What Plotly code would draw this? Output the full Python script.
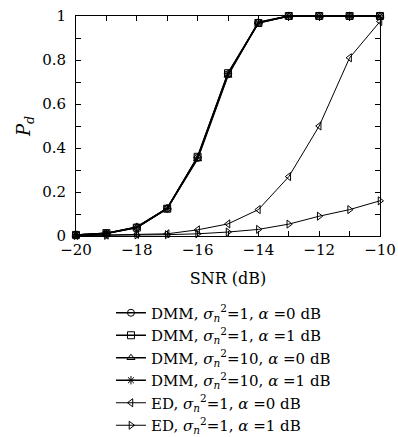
import plotly.graph_objects as go

snr = [-20, -19, -18, -17, -16, -15, -14, -13, -12, -11, -10]
dmm_s1_a0 = [0.005, 0.012, 0.040, 0.125, 0.355, 0.735, 0.970, 1.0, 1.0, 1.0, 1.0]
dmm_s1_a1 = [0.005, 0.013, 0.038, 0.124, 0.360, 0.740, 0.968, 1.0, 1.0, 1.0, 1.0]
dmm_s10_a0 = [0.004, 0.011, 0.039, 0.126, 0.350, 0.730, 0.972, 1.0, 1.0, 1.0, 1.0]
dmm_s10_a1 = [0.005, 0.012, 0.041, 0.125, 0.358, 0.738, 0.969, 1.0, 1.0, 1.0, 1.0]
ed_a0 = [0.002, 0.004, 0.007, 0.010, 0.028, 0.055, 0.120, 0.270, 0.500, 0.810, 0.975]
ed_a1 = [0.002, 0.003, 0.005, 0.006, 0.010, 0.018, 0.030, 0.054, 0.090, 0.120, 0.160]

names = [
    "DMM, <i>σ</i><sub><i>n</i></sub><sup>2</sup>=1, <i>α</i> =0 dB",
    "DMM, <i>σ</i><sub><i>n</i></sub><sup>2</sup>=1, <i>α</i> =1 dB",
    "DMM, <i>σ</i><sub><i>n</i></sub><sup>2</sup>=10, <i>α</i> =0 dB",
    "DMM, <i>σ</i><sub><i>n</i></sub><sup>2</sup>=10, <i>α</i> =1 dB",
    "ED, <i>σ</i><sub><i>n</i></sub><sup>2</sup>=1, <i>α</i> =0 dB",
    "ED, <i>σ</i><sub><i>n</i></sub><sup>2</sup>=1, <i>α</i> =1 dB",
]
series = [dmm_s1_a0, dmm_s1_a1, dmm_s10_a0, dmm_s10_a1, ed_a0, ed_a1]
symbols = ["circle-open", "square-open", "triangle-up-open", "asterisk-open",
           "triangle-left-open", "triangle-right-open"]
widths = [1.5, 1.5, 1.5, 1.5, 1.0, 1.0]

fig = go.Figure()
for nm, ys, sym, w in zip(names, series, symbols, widths):
    fig.add_trace(go.Scatter(
        x=snr, y=ys, name=nm, mode="lines+markers",
        line=dict(color="black", width=w),
        marker=dict(symbol=sym, size=7, color="black", line=dict(color="black", width=1)),
        cliponaxis=False,
    ))

font_family = "DejaVu Serif, Liberation Serif, serif"
fig.update_layout(
    width=398, height=437,
    margin=dict(l=76, r=18, t=16, b=201, autoexpand=False),
    paper_bgcolor="white", plot_bgcolor="white",
    font=dict(family=font_family, size=15, color="black"),
    showlegend=True,
    legend=dict(x=0.115, y=-0.275, xanchor="left", yanchor="top",
                font=dict(family=font_family, size=15, color="black"),
                bgcolor="rgba(0,0,0,0)", tracegroupgap=0, itemwidth=30),
    xaxis=dict(range=[-20, -10], tickvals=[-20, -18, -16, -14, -12, -10],
               ticktext=["−20", "−18", "−16", "−14", "−12", "−10"],
               ticks="inside", ticklen=5, tickcolor="black",
               minor=dict(dtick=1, ticks="inside", ticklen=5, tickcolor="black"),
               showline=True, linecolor="black", linewidth=1, mirror="ticks",
               showgrid=False, zeroline=False,
               title=dict(text="SNR (dB)", standoff=14, font=dict(size=16))),
    yaxis=dict(range=[0, 1], tickvals=[0, 0.2, 0.4, 0.6, 0.8, 1],
               ticktext=["0", "0.2", "0.4", "0.6", "0.8", "1"],
               ticks="inside", ticklen=5, tickcolor="black",
               minor=dict(dtick=0.1, ticks="inside", ticklen=5, tickcolor="black"),
               showline=True, linecolor="black", linewidth=1, mirror="ticks",
               showgrid=False, zeroline=False, ticklabelstandoff=6,
               title=dict(text="<i>P</i><sub><i>d</i></sub>", standoff=6, font=dict(size=18))),
)
fig.write_html("out.html")
